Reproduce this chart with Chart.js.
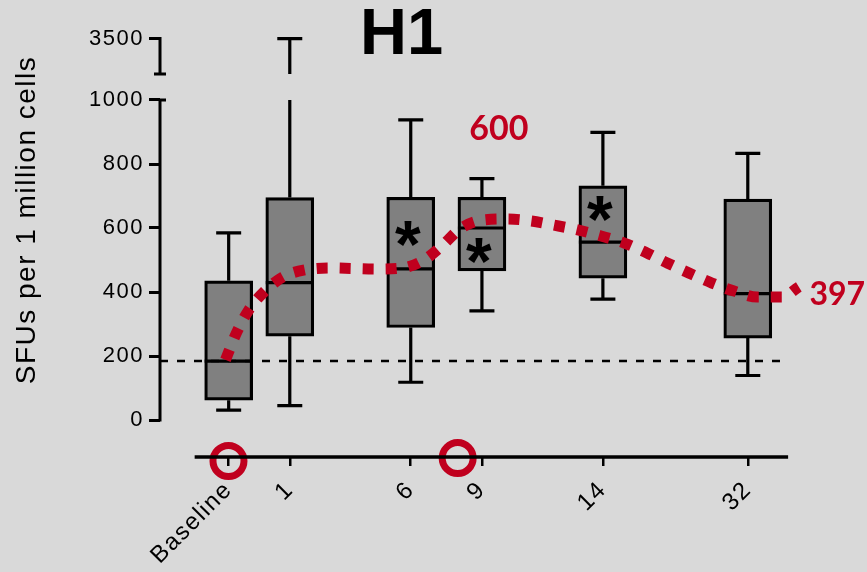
<!DOCTYPE html>
<html><head><meta charset="utf-8">
<script src="https://cdn.jsdelivr.net/npm/chart.js@4/dist/chart.umd.min.js"></script>
<style>html,body{margin:0;padding:0;background:#d9d9d9;overflow:hidden}canvas{display:block}</style>
</head><body>
<canvas id="c" width="867" height="572"></canvas>
<script>
// ---- data ----
const categories   = ['Baseline', '1', '6', '9', '14', '32'];
const categoryPos  = [10.9, 20.6, 39.8, 51.1, 70.3, 93.3];   // slot of each time point on the x axis
const whiskerMin   = [31, 45, 118, 341, 378, 139];
const boxQ1        = [62, 262, 289, 466, 443, 256];
const boxMedian    = [184, 429, 472, 600, 556, 395];
const boxQ3        = [435, 695, 696, 696, 732, 690];
const whiskerMax   = [585, 3500, 938, 754, 899, 833];
const yTickValues  = [0, 200, 400, 600, 800, 1000, 3500];
const yTickLabels  = ['0', '200', '400', '600', '800', '1000', '3500'];
const refLevel     = 184;
const trendX = [10.4, 12.2, 14.1, 16.5, 19.5, 23.0, 27.0, 34.4, 38.4, 41.9, 44.9, 47.6, 51.3, 55.1, 58.9, 62.5, 66.3, 70.0, 73.7, 77.3, 80.6, 84.0, 87.6, 91.1, 94.8, 98.7, 101.4];
const trendY = [188, 275, 344, 400, 447, 469, 475, 472, 475, 500, 547, 597, 625, 628, 622, 609, 594, 575, 553, 522, 490, 459, 428, 403, 384, 384, 416];
const sigCategories = ['6', '9', '14'];
const sigY          = [584, 531, 662];
const circleX = [10.87, 47.25];
const circleY = [-128, -119];
const peakLabel = '600', peakX = 53.8, peakY = 914;
const endLabel  = '397', endX = 107.5, endY = 397;

// ---- broken y axis ----
const BREAK_LOW = 1000, UPPER_START = 3000, UPPER_END = 3500;
const DISP_UPPER_START = 1081, DISP_UPPER_END = 1192;
function toDisp(v) {
  if (v <= BREAK_LOW) return v;
  if (v < UPPER_START) return BREAK_LOW + (v - BREAK_LOW) * (DISP_UPPER_START - BREAK_LOW) / (UPPER_START - BREAK_LOW);
  return DISP_UPPER_START + (v - UPPER_START) * (DISP_UPPER_END - DISP_UPPER_START) / (UPPER_END - UPPER_START);
}

const RED = '#c0001e';
const FONT = '"Liberation Sans", Arial, sans-serif';

function drawCentered(ctx, text, x, y) {
  const m = ctx.measureText(text);
  ctx.textAlign = 'center';
  ctx.textBaseline = 'alphabetic';
  ctx.fillText(text, x, y + (m.actualBoundingBoxAscent - m.actualBoundingBoxDescent) / 2);
}

const deco = {
  id: 'deco',
  beforeDraw(chart) { chart.ctx.letterSpacing = '1.5px'; },
  afterDatasetDraw(chart, args) {
    if (args.index !== 0) return;
    const ctx = chart.ctx, xs = chart.scales.x, ys = chart.scales.y;
    ctx.save();
    ctx.strokeStyle = '#000';
    ctx.lineWidth = 3.2;
    ctx.lineCap = 'butt';
    const half = 24, cap = 12.5;
    categoryPos.forEach((p, i) => {
      const cx = xs.getPixelForValue(p);
      const q1 = ys.getPixelForValue(toDisp(boxQ1[i]));
      const q3 = ys.getPixelForValue(toDisp(boxQ3[i]));
      const md = ys.getPixelForValue(toDisp(boxMedian[i]));
      const lo = ys.getPixelForValue(toDisp(whiskerMin[i]));
      const hi = ys.getPixelForValue(toDisp(whiskerMax[i]));
      ctx.beginPath();
      ctx.moveTo(cx - half, md); ctx.lineTo(cx + half, md);
      ctx.moveTo(cx, q1); ctx.lineTo(cx, lo);
      ctx.moveTo(cx - cap, lo); ctx.lineTo(cx + cap, lo);
      if (whiskerMax[i] > BREAK_LOW) {
        ctx.moveTo(cx, q3); ctx.lineTo(cx, ys.getPixelForValue(BREAK_LOW));
        ctx.moveTo(cx, ys.getPixelForValue(DISP_UPPER_START)); ctx.lineTo(cx, hi);
      } else {
        ctx.moveTo(cx, q3); ctx.lineTo(cx, hi);
      }
      ctx.moveTo(cx - cap, hi); ctx.lineTo(cx + cap, hi);
      ctx.stroke();
    });
    ctx.fillStyle = '#000';
    ctx.letterSpacing = '0px';
    ctx.font = 'bold 66px ' + FONT;
    sigCategories.forEach((c, i) => {
      const p = categoryPos[categories.indexOf(c)];
      drawCentered(ctx, '*', xs.getPixelForValue(p) - 3, ys.getPixelForValue(sigY[i]));
    });
    ctx.restore();
  },
  afterDraw(chart) {
    const ctx = chart.ctx, xs = chart.scales.x, ys = chart.scales.y, area = chart.chartArea;
    ctx.save();
    ctx.strokeStyle = '#000';
    ctx.lineWidth = 3;
    const ax = area.left;
    ctx.beginPath();
    ctx.moveTo(ax, ys.getPixelForValue(0) + 1.5);
    ctx.lineTo(ax, ys.getPixelForValue(BREAK_LOW) - 1.5);
    ctx.moveTo(ax - 1.5, ys.getPixelForValue(BREAK_LOW)); ctx.lineTo(ax + 6, ys.getPixelForValue(BREAK_LOW));
    ctx.moveTo(ax, ys.getPixelForValue(DISP_UPPER_START) + 1.5);
    ctx.lineTo(ax, ys.getPixelForValue(DISP_UPPER_END) - 1.5);
    ctx.moveTo(ax - 6, ys.getPixelForValue(DISP_UPPER_START)); ctx.lineTo(ax + 6, ys.getPixelForValue(DISP_UPPER_START));
    ctx.stroke();
    ctx.lineWidth = 3.5;
    ctx.beginPath();
    ctx.moveTo(xs.getPixelForValue(5.5), area.bottom);
    ctx.lineTo(xs.getPixelForValue(99.7), area.bottom);
    ctx.stroke();
    ctx.fillStyle = '#000';
    ctx.letterSpacing = '1.5px';
    ctx.save();
    ctx.translate(27, 220);
    ctx.rotate(-Math.PI / 2);
    ctx.font = '28px ' + FONT;
    ctx.textAlign = 'center';
    ctx.textBaseline = 'middle';
    ctx.fillText('SFUs per 1 million cells', 0, 0);
    ctx.restore();
    ctx.letterSpacing = '0px';
    ctx.font = 'bold 65px ' + FONT;
    ctx.textAlign = 'left';
    ctx.textBaseline = 'alphabetic';
    ctx.fillText('H1', 360, 54);
    ctx.fillStyle = RED;
    ctx.font = 'bold 34px Lato, "Open Sans", sans-serif';
    drawCentered(ctx, peakLabel, xs.getPixelForValue(peakX), ys.getPixelForValue(peakY));
    ctx.font = 'bold 32px Lato, "Open Sans", sans-serif';
    drawCentered(ctx, endLabel, xs.getPixelForValue(endX), ys.getPixelForValue(endY));
    ctx.restore();
  }
};

new Chart(document.getElementById('c'), {
  type: 'bar',
  data: {
    datasets: [
      {
        type: 'bar',
        data: categoryPos.map((x, i) => ({ x, y: [toDisp(boxQ1[i]), toDisp(boxQ3[i])] })),
        backgroundColor: '#808080',
        borderColor: '#000',
        borderWidth: 3.2,
        borderSkipped: false,
        barThickness: 48,
        order: 3
      },
      {
        type: 'line',
        data: [{ x: 0, y: refLevel }, { x: 99.7, y: refLevel }],
        borderColor: '#000',
        borderWidth: 2.5,
        borderDash: [8, 9],
        pointRadius: 0,
        order: 2
      },
      {
        type: 'line',
        data: trendX.map((x, i) => ({ x, y: trendY[i] })),
        borderColor: RED,
        borderWidth: 11,
        borderDash: [11, 12],
        borderCapStyle: 'butt',
        cubicInterpolationMode: 'monotone',
        pointRadius: 0,
        clip: false,
        order: 1
      },
      {
        type: 'line',
        data: circleX.map((x, i) => ({ x, y: circleY[i] })),
        showLine: false,
        pointRadius: 15.5,
        pointBorderWidth: 7,
        pointBorderColor: RED,
        pointBackgroundColor: 'rgba(0,0,0,0)',
        clip: false,
        order: 0
      }
    ]
  },
  options: {
    responsive: false,
    devicePixelRatio: 1,
    animation: false,
    events: [],
    layout: { padding: { left: 0, right: 77, top: 30, bottom: 0 } },
    plugins: { legend: { display: false }, tooltip: { enabled: false }, title: { display: false } },
    scales: {
      x: {
        type: 'linear',
        min: 0, max: 100,
        offset: false,
        afterFit(s) { s.height = 115; },
        afterBuildTicks(s) { s.ticks = categoryPos.map(v => ({ value: v })); },
        border: { display: false },
        grid: { display: true, drawOnChartArea: false, drawTicks: true, tickLength: 9, lineWidth: 2.5, color: '#000', offset: false },
        ticks: {
          autoSkip: false,
          minRotation: 45, maxRotation: 45,
          padding: 10,
          color: '#000',
          font: { family: 'Liberation Sans', size: 24 },
          callback: (v, i) => categories[i]
        }
      },
      y: {
        type: 'linear',
        min: -115.625, max: 1218.75,
        afterFit(s) { s.width = 160; },
        afterBuildTicks(s) { s.ticks = yTickValues.map(v => ({ value: toDisp(v) })); },
        border: { display: false },
        grid: { display: true, drawOnChartArea: false, drawTicks: true, tickLength: 11, lineWidth: 3, color: '#000' },
        ticks: {
          autoSkip: false,
          padding: 5,
          color: '#000',
          font: { family: 'Liberation Sans', size: 22 },
          callback: (v, i) => yTickLabels[i]
        }
      }
    }
  },
  plugins: [deco]
});
</script>
</body></html>
